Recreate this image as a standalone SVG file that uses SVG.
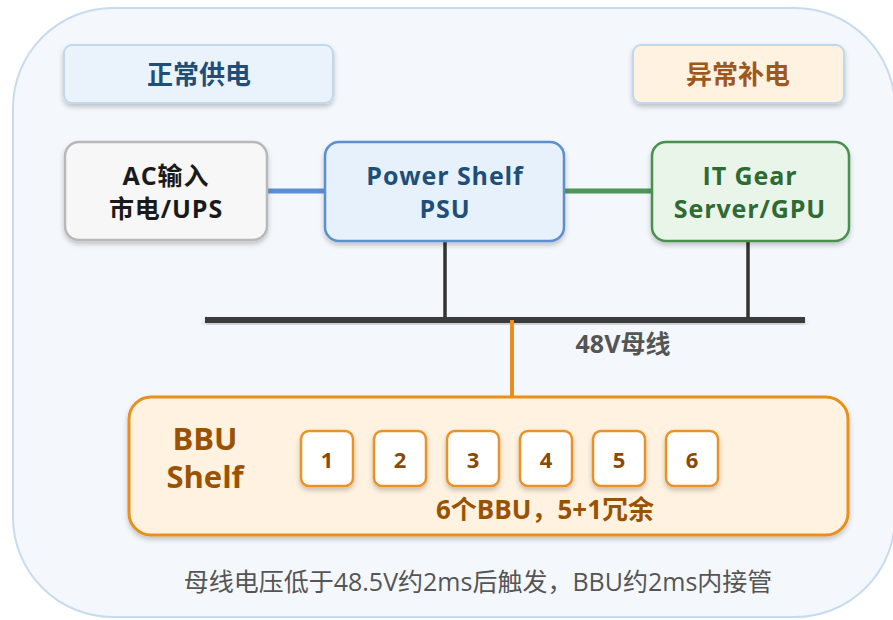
<svg xmlns="http://www.w3.org/2000/svg" width="893" height="620" viewBox="0 0 893 620">
  <defs>
    <filter id="shadow" x="-10%" y="-10%" width="120%" height="130%">
      <feDropShadow dx="0" dy="3" stdDeviation="2.5" flood-color="#000" flood-opacity="0.22"/>
    </filter>
    <style>
      text { font-family: "Open Sans", "Noto Sans CJK SC", sans-serif; text-anchor: middle; }
      .b { font-weight: bold; }
      .tag { stroke: #c3d7ea; stroke-width: 2; }
      .node { stroke-width: 2.5; }
      .label { font-size: 25px; font-weight: bold; letter-spacing: 0.9px; }
      .slot { fill: #ffffff; stroke: #ea9225; stroke-width: 2.5; }
      .num { font-size: 22px; font-weight: bold; fill: #8a4a04; }
    </style>
  </defs>

  <!-- outer panel -->
  <rect x="13" y="8" width="882" height="609" rx="100" fill="#f4f8fd" stroke="#c8dbee" stroke-width="2"/>

  <!-- section tags -->
  <g id="tag-normal">
    <rect class="tag" x="64" y="45" width="269" height="58" rx="8" fill="#eaf3fc" filter="url(#shadow)"/>
    <text class="b" x="199" y="84" font-size="26" fill="#1f4e79">正常供电</text>
  </g>
  <g id="tag-backup">
    <rect class="tag" x="633" y="45" width="211" height="58" rx="8" fill="#fff2e0" filter="url(#shadow)"/>
    <text class="b" x="738" y="84" font-size="26" fill="#a0581a">异常补电</text>
  </g>

  <!-- connectors -->
  <g id="connectors">
    <line x1="267" y1="191" x2="324" y2="191" stroke="#5b8fd0" stroke-width="5"/>
    <line x1="565" y1="191" x2="651" y2="191" stroke="#4e9658" stroke-width="5"/>
    <line x1="445" y1="241" x2="445" y2="320" stroke="#333333" stroke-width="3.5"/>
    <line x1="748" y1="241" x2="748" y2="320" stroke="#333333" stroke-width="3.5"/>
    <rect x="205" y="317" width="600" height="6" fill="#3a3a3a" filter="url(#shadow)"/>
    <line x1="512" y1="320" x2="512" y2="398" stroke="#e8901f" stroke-width="4"/>
  </g>
  <text class="b" x="623" y="353" font-size="25" fill="#555555">48V母线</text>

  <!-- source -->
  <g id="ac-input">
    <rect class="node" x="65" y="142" width="202" height="98" rx="14" fill="#f7f7f7" stroke="#b8b8b8" filter="url(#shadow)"/>
    <text class="label" x="166" y="185" fill="#1a1a1a">AC输入</text>
    <text class="label" x="166" y="218" fill="#1a1a1a">市电/UPS</text>
  </g>

  <!-- power shelf -->
  <g id="power-shelf">
    <rect class="node" x="325" y="142" width="239" height="99" rx="14" fill="#e6f1fb" stroke="#5b8fd0" filter="url(#shadow)"/>
    <text class="label" x="445" y="185" fill="#1f4e79">Power Shelf</text>
    <text class="label" x="445" y="218" fill="#1f4e79">PSU</text>
  </g>

  <!-- load -->
  <g id="it-gear">
    <rect class="node" x="652" y="142" width="197" height="99" rx="14" fill="#eaf5ea" stroke="#4a9050" filter="url(#shadow)"/>
    <text class="label" x="750" y="185" fill="#2e6b33">IT Gear</text>
    <text class="label" x="750" y="218" fill="#2e6b33">Server/GPU</text>
  </g>

  <!-- battery backup shelf -->
  <g id="bbu-shelf">
    <rect x="129" y="397" width="719" height="138" rx="22" fill="#fff2e0" stroke="#e8901f" stroke-width="3" filter="url(#shadow)"/>
    <text class="b" x="205" y="450" font-size="31" fill="#9a5200">BBU</text>
    <text class="b" x="205" y="488" font-size="31" fill="#9a5200">Shelf</text>
    <text class="b" x="545" y="519" font-size="26" fill="#9a5200">6个BBU，5+1冗余</text>
  </g>
  <g id="bbu-1">
    <rect class="slot" x="301" y="431" width="52" height="55" rx="8" filter="url(#shadow)"/>
    <text class="num" x="327" y="468">1</text>
  </g>
  <g id="bbu-2">
    <rect class="slot" x="374" y="431" width="52" height="55" rx="8" filter="url(#shadow)"/>
    <text class="num" x="400" y="468">2</text>
  </g>
  <g id="bbu-3">
    <rect class="slot" x="447" y="431" width="52" height="55" rx="8" filter="url(#shadow)"/>
    <text class="num" x="473" y="468">3</text>
  </g>
  <g id="bbu-4">
    <rect class="slot" x="520" y="431" width="52" height="55" rx="8" filter="url(#shadow)"/>
    <text class="num" x="546" y="468">4</text>
  </g>
  <g id="bbu-5">
    <rect class="slot" x="593" y="431" width="52" height="55" rx="8" filter="url(#shadow)"/>
    <text class="num" x="619" y="468">5</text>
  </g>
  <g id="bbu-6">
    <rect class="slot" x="666" y="431" width="52" height="55" rx="8" filter="url(#shadow)"/>
    <text class="num" x="692" y="468">6</text>
  </g>

  <!-- footnote -->
  <text x="478" y="591" font-size="25" fill="#555555">母线电压低于48.5V约2ms后触发，BBU约2ms内接管</text>
</svg>
